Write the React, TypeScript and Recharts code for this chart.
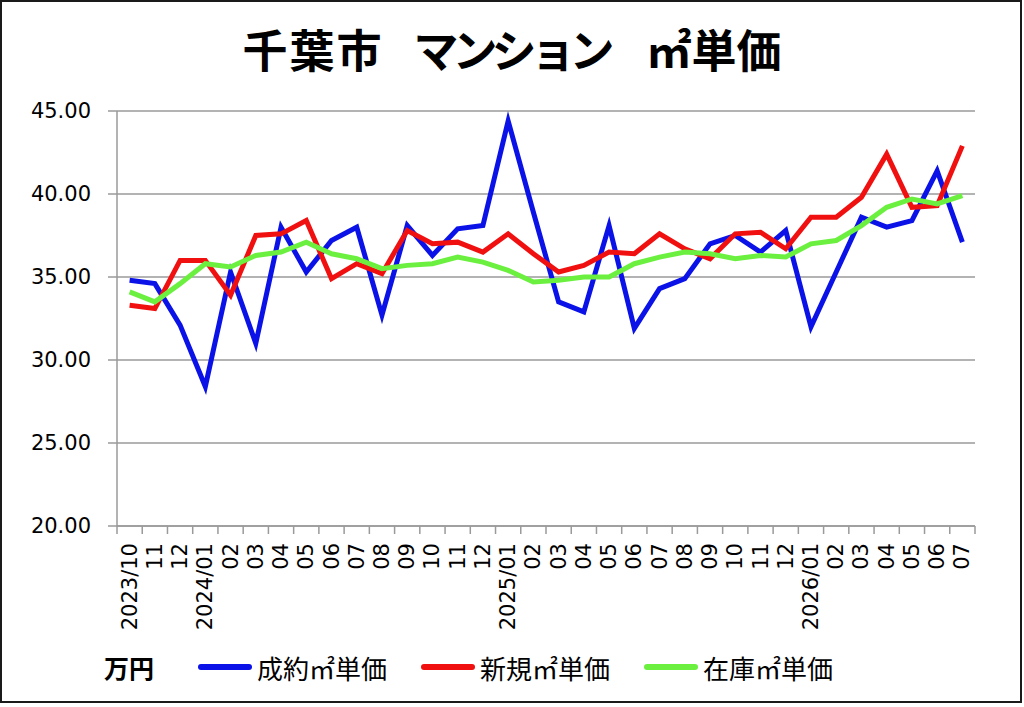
import { CartesianGrid, Legend, Line, LineChart, XAxis, YAxis } from "recharts";

const months = [
  "2023/10", "11", "12",
  "2024/01", "02", "03", "04", "05", "06", "07", "08", "09", "10", "11", "12",
  "2025/01", "02", "03", "04", "05", "06", "07", "08", "09", "10", "11", "12",
  "2026/01", "02", "03", "04", "05", "06", "07",
];

// 万円 / ㎡
const seiyaku = [
  34.8, 34.6, 32.1, 28.4, 35.3, 31.0, 38.0, 35.3, 37.2, 38.0, 32.7, 38.1, 36.3, 37.9, 38.1, 44.4, 38.9,
  33.5, 32.9, 38.1, 31.9, 34.3, 34.9, 37.0, 37.5, 36.5, 37.8, 32.0, 35.3, 38.6, 38.0, 38.4, 41.4, 37.1,
];
const shinki = [
  33.3, 33.1, 36.0, 36.0, 33.9, 37.5, 37.6, 38.4, 34.9, 35.8, 35.2, 37.8, 37.0, 37.1, 36.5, 37.6, 36.4,
  35.3, 35.7, 36.5, 36.4, 37.6, 36.7, 36.1, 37.6, 37.7, 36.7, 38.6, 38.6, 39.8, 42.4, 39.2, 39.3, 42.9,
];
const zaiko = [
  34.1, 33.5, 34.6, 35.8, 35.6, 36.3, 36.5, 37.1, 36.4, 36.1, 35.5, 35.7, 35.8, 36.2, 35.9, 35.4, 34.7,
  34.8, 35.0, 35.0, 35.8, 36.2, 36.5, 36.4, 36.1, 36.3, 36.2, 37.0, 37.2, 38.1, 39.2, 39.7, 39.4, 39.9,
];

const seriesKeys = ["seiyaku", "shinki", "zaiko"];
const seriesNames = ["成約㎡単価", "新規㎡単価", "在庫㎡単価"];
const seriesColors = ["#0a12e8", "#f01010", "#6cf040"];

const yTicks = [20, 25, 30, 35, 40, 45];

const CJK = '"Noto Sans CJK JP", sans-serif';
const LATIN = '"DejaVu Sans", sans-serif';
const GREY = "#9a9a9a";

const data = months.map((month, i) => ({
  pos: i,
  month,
  seiyaku: seiyaku[i],
  shinki: shinki[i],
  zaiko: zaiko[i],
}));

// Excel-style tick marks sit between the categories, labels at the centres
const boundaryTicks = [...months.map((_, i) => i - 0.5), months.length - 0.5];
const centreTicks = months.map((_, i) => i);

function MonthTick({ x, y, payload }: any) {
  return (
    <text
      x={x}
      y={y}
      transform={`rotate(-90 ${x} ${y})`}
      textAnchor="end"
      dominantBaseline="central"
      fontFamily={LATIN}
      fontSize={21}
      fill="#000"
    >
      {months[payload.value]}
    </text>
  );
}

function LegendContent() {
  return (
    <div style={{ display: "flex", alignItems: "center", height: 40, fontFamily: CJK, fontSize: 26, color: "#000" }}>
      <span style={{ marginLeft: 104, fontWeight: "bold", fontSize: 25, width: 94 }}>万円</span>
      {seriesNames.map((name, i) => (
        <span key={name} style={{ display: "flex", alignItems: "center", marginRight: 34 }}>
          <span
            style={{
              display: "inline-block",
              width: 54,
              height: 6,
              borderRadius: 3,
              background: seriesColors[i],
              marginRight: 5,
            }}
          />
          {name}
        </span>
      ))}
    </div>
  );
}

export default function App() {
  return (
    <div style={{ position: "absolute", left: 0, top: 0, width: 1024, height: 707, background: "#fff" }}>
      <div
        style={{
          position: "absolute",
          left: 0,
          top: 0,
          width: 1022,
          height: 703,
          boxSizing: "border-box",
          border: "2px solid #1a1a1a",
        }}
      />
      <div
        style={{
          position: "absolute",
          left: 0,
          top: 25,
          width: 1024,
          textAlign: "center",
          fontFamily: CJK,
          fontWeight: "bold",
          fontSize: 45,
          lineHeight: "48px",
          color: "#000",
        }}
      >
        <span style={{ letterSpacing: 2 }}>千葉市</span>
        <span style={{ marginLeft: 30, letterSpacing: -6 }}>マンション</span>
        <span style={{ marginLeft: 38, letterSpacing: 0 }}>㎡単価</span>
      </div>
      <div style={{ position: "absolute", left: 0, top: 0 }}>
        <LineChart width={1024} height={707} data={data} margin={{ top: 111, right: 49, left: 17, bottom: 33 }}>
          <CartesianGrid vertical={false} stroke={GREY} strokeWidth={1.5} />
          <XAxis
            xAxisId="b"
            type="number"
            dataKey="pos"
            domain={[-0.5, months.length - 0.5]}
            ticks={centreTicks}
            interval={0}
            tick={<MonthTick />}
            tickLine={false}
            axisLine={false}
            tickSize={0}
            tickMargin={9}
            height={100}
          />
          <XAxis
            xAxisId="a"
            type="number"
            dataKey="pos"
            domain={[-0.5, months.length - 0.5]}
            ticks={boundaryTicks}
            interval={0}
            tick={() => <g />}
            tickSize={8}
            stroke={GREY}
            strokeWidth={1.5}
            height={8}
          />
          <YAxis
            width={100}
            domain={[20, 45]}
            ticks={yTicks}
            interval={0}
            tickFormatter={(v: number) => v.toFixed(2)}
            tick={{ fontFamily: LATIN, fontSize: 21, fill: "#000" }}
            tickSize={9}
            tickMargin={17}
            stroke={GREY}
            strokeWidth={1.5}
          />
          <Legend
            verticalAlign="bottom"
            content={<LegendContent />}
            wrapperStyle={{ left: 0, bottom: 20, width: 1024, height: 40 }}
          />
          {seriesKeys.map((key, i) => (
            <Line
              key={key}
              xAxisId="a"
              type="linear"
              dataKey={key}
              name={seriesNames[i]}
              stroke={seriesColors[i]}
              strokeWidth={5}
              dot={false}
              activeDot={false}
              isAnimationActive={false}
            />
          ))}
        </LineChart>
      </div>
    </div>
  );
}
